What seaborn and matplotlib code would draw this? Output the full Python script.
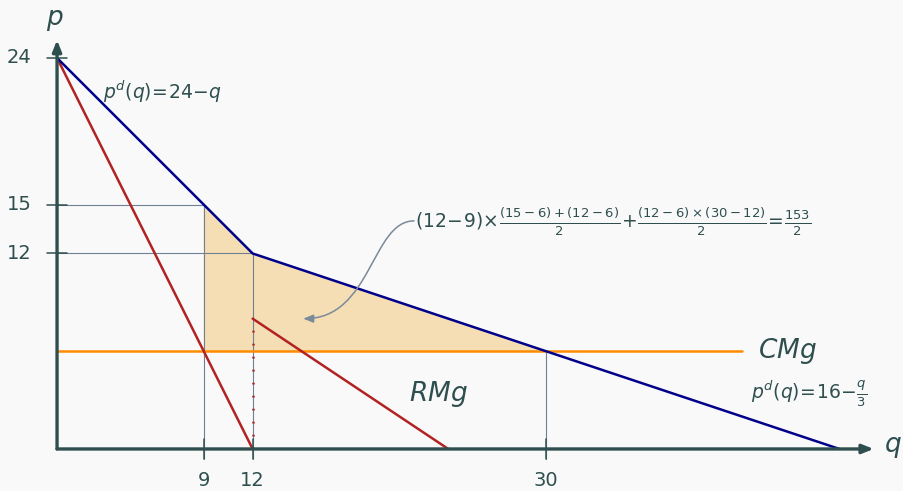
import numpy as np
import pandas as pd
import matplotlib
matplotlib.use("Agg")
import matplotlib.pyplot as plt
import seaborn as sns
from matplotlib.path import Path
from matplotlib.patches import FancyArrowPatch

# Demand (kinked), marginal revenue segments and marginal cost
demand_q = [0, 12, 48]
demand_p = [24, 12, 0]
mr1_q = [0, 12]
mr1_p = [24, 0]
mr2_q = [12, 24]
mr2_p = [8, 0]
mc_q = [0, 42]
mc_p = [6, 6]

# Deadweight-loss region
area_q = [9, 9, 12, 30]
area_p = [6, 15, 12, 6]

x_ticks = [9, 12, 30]
y_ticks = [12, 15, 24]

sns.set_theme(style="white")
plt.rcParams["font.family"] = ["DejaVu Sans"]
plt.rcParams["mathtext.fontset"] = "dejavusans"

BG = "#f9f9f9"
AX = "#2f4f4f"
GUIDE = "#708090"
NAVY = "#00008b"
RED = "#b22222"
ORANGE = "#ff8c00"

fig = plt.figure(figsize=(9.04, 4.91), dpi=100, facecolor=BG)
ax = fig.add_axes([0, 0, 1, 1])
ax.set_facecolor(BG)

# shaded area
ax.fill(area_q, area_p, color="#f5deb3", lw=0, zorder=1)

# guide lines
ax.plot([0, 9], [15, 15], color=GUIDE, lw=0.8, zorder=2)
ax.plot([0, 12], [12, 12], color=GUIDE, lw=0.8, zorder=2)
ax.plot([9, 9], [-0.6, 15], color=GUIDE, lw=0.8, zorder=2)
ax.plot([12, 12], [-0.6, 12], color=GUIDE, lw=0.8, zorder=2)
ax.plot([30, 30], [-0.6, 6], color=GUIDE, lw=0.8, zorder=2)

# dotted segment under the MR jump
ax.plot([12, 12], [0, 8], color=RED, lw=1.8, ls=(0, (0.7, 4.5)), zorder=3)

df_mc = pd.DataFrame({"q": mc_q, "p": mc_p})
df_d = pd.DataFrame({"q": demand_q, "p": demand_p})
df_r1 = pd.DataFrame({"q": mr1_q, "p": mr1_p})
df_r2 = pd.DataFrame({"q": mr2_q, "p": mr2_p})

sns.lineplot(data=df_mc, x="q", y="p", color=ORANGE, lw=1.8, sort=False,
             estimator=None, ax=ax, zorder=4)
sns.lineplot(data=df_r1, x="q", y="p", color=RED, lw=1.8, sort=False,
             estimator=None, ax=ax, zorder=5)
sns.lineplot(data=df_r2, x="q", y="p", color=RED, lw=1.8, sort=False,
             estimator=None, ax=ax, zorder=5)
sns.lineplot(data=df_d, x="q", y="p", color=NAVY, lw=1.8, sort=False,
             estimator=None, ax=ax, zorder=6)
ax.set_xlim(-3.5, 51.96)
ax.set_ylim(-2.58, 27.56)
ax.axis("off")

# axes with arrows
ax.annotate("", xy=(50.1, 0), xytext=(0, 0),
            arrowprops=dict(arrowstyle="-|>,head_length=0.55,head_width=0.22",
                            lw=2.4, color=AX, shrinkA=0, shrinkB=0), zorder=7)
ax.annotate("", xy=(0, 25.1), xytext=(0, 0),
            arrowprops=dict(arrowstyle="-|>,head_length=0.55,head_width=0.22",
                            lw=2.4, color=AX, shrinkA=0, shrinkB=0), zorder=7)

# ticks
for t in y_ticks:
    ax.plot([-0.6, 0.6], [t, t], color=AX, lw=1.1, zorder=8)
    ax.text(-1.55, t, str(t), ha="right", va="center", fontsize=14, color=AX)
for t in x_ticks:
    ax.plot([t, t], [-0.6, 0.6], color=AX, lw=1.1, zorder=8)
    ax.text(t, -1.35, str(t), ha="center", va="top", fontsize=14, color=AX)

ax.text(-0.15, 26.35, "$p$", ha="center", va="center", fontsize=19, color=AX)
ax.text(51.3, 0.1, "$q$", ha="center", va="center", fontsize=19, color=AX)

ax.text(2.8, 21.9, "$p^d(q)\\!=\\!24\\!-\\!q$", ha="left", va="center",
        fontsize=13.5, color=AX)
ax.text(43.0, 6.0, "$CMg$", ha="left", va="center", fontsize=19, color=AX)
ax.text(21.6, 3.4, "$RMg$", ha="left", va="center", fontsize=19, color=AX)
ax.text(42.6, 3.4, "$p^d(q)\\!=\\!16\\!-\\!\\frac{q}{3}$", ha="left",
        va="center", fontsize=13.5, color=AX)

ax.text(21.95, 13.93,
        "$(12\\!-\\!9)\\!\\times\\!\\frac{(15-6)+(12-6)}{2}\\!+\\!"
        "\\frac{(12-6)\\times(30-12)}{2}\\!=\\!\\frac{153}{2}$",
        ha="left", va="center", fontsize=13.5, color=AX)

# curved pointer from the formula into the shaded area
verts = [(21.9, 14.0), (19.3, 14.0), (19.3, 8.0), (15.1, 8.0)]
path = Path(verts, [Path.MOVETO, Path.CURVE4, Path.CURVE4, Path.CURVE4])
arrow = FancyArrowPatch(path=path, arrowstyle="-|>,head_length=0.5,head_width=0.2",
                        color="#7a8a9a", lw=1.1, mutation_scale=12, zorder=9)
ax.add_patch(arrow)

fig.savefig("out.png", dpi=100, facecolor=BG)
